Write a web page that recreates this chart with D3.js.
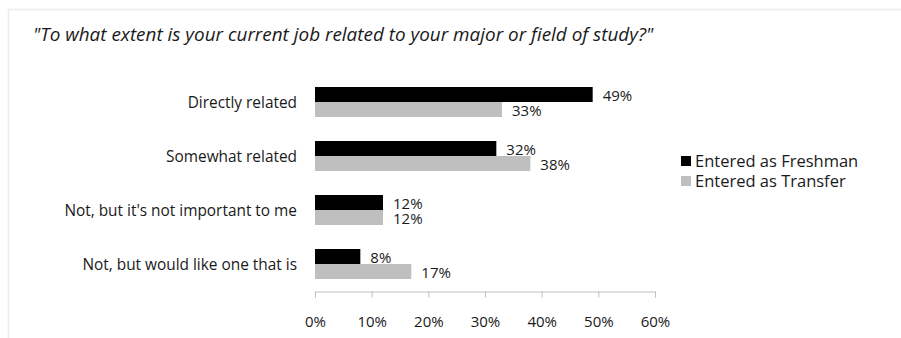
<!DOCTYPE html>
<html>
<head>
<meta charset="utf-8">
<script src="https://cdn.jsdelivr.net/npm/d3@7"></script>
<style>
  html, body { margin: 0; padding: 0; background: #fff; }
  svg { display: block; font-family: "Open Sans", "DejaVu Sans", sans-serif; }
</style>
</head>
<body>
<svg id="chart" width="901" height="338"></svg>
<script>
// Survey responses by entry type (percent of respondents)
const categories = [
  "Directly related",
  "Somewhat related",
  "Not, but it's not important to me",
  "Not, but would like one that is"
];
const seriesNames = ["Entered as Freshman", "Entered as Transfer"];
const freshman = [49, 32, 12, 8];
const transfer = [33, 38, 12, 17];
const xTicks = [0, 10, 20, 30, 40, 50, 60];
const title = "\"To what extent is your current job related to your major or field of study?\"";

const colors = ["#000000", "#bfbfbf"];
const ink = "#1a1a1a";
const svg = d3.select("#chart");

// outer frame
svg.append("rect")
  .attr("x", 8.5).attr("y", 9.5)
  .attr("width", 900).attr("height", 340)
  .attr("fill", "none").attr("stroke", "#ececec").attr("stroke-width", 1.5);

svg.append("text")
  .attr("x", 33).attr("y", 41)
  .attr("font-style", "italic")
  .attr("font-size", 18.9)
  .attr("fill", ink)
  .text(title);

const x = d3.scaleLinear().domain([0, 60]).range([315, 655]);
const y = d3.scaleBand().domain(categories).range([75, 291])
  .paddingInner(24 / 54).paddingOuter(12 / 54);
const sub = d3.scaleBand().domain(seriesNames).range([0, y.bandwidth()]);

const rows = categories.map((c, i) => ({ cat: c, vals: [freshman[i], transfer[i]] }));

const g = svg.append("g");
const grp = g.selectAll("g.cat").data(rows).join("g")
  .attr("transform", d => `translate(0,${y(d.cat)})`);

grp.selectAll("rect").data(d => d.vals.map((v, k) => ({ v, k }))).join("rect")
  .attr("x", x(0))
  .attr("y", d => sub(seriesNames[d.k]))
  .attr("width", d => x(d.v) - x(0))
  .attr("height", sub.bandwidth())
  .attr("fill", d => colors[d.k]);

grp.selectAll("text.val").data(d => d.vals.map((v, k) => ({ v, k }))).join("text")
  .attr("class", "val")
  .attr("x", d => x(d.v) + 10)
  .attr("y", d => sub(seriesNames[d.k]) + sub.bandwidth() / 2 + 6)
  .attr("font-size", 15)
  .attr("fill", ink)
  .text(d => d.v + "%");

// category labels
g.selectAll("text.cat").data(categories).join("text")
  .attr("class", "cat")
  .attr("x", 297)
  .attr("y", d => y(d) + y.bandwidth() / 2 + 5.5)
  .attr("text-anchor", "end")
  .attr("font-size", 15.4)
  .attr("fill", ink)
  .text(d => d);

// x axis
const axis = svg.append("g")
  .attr("transform", "translate(0,291.5)")
  .call(d3.axisBottom(x).tickValues(xTicks).tickFormat(d => d + "%").tickSizeInner(6).tickSizeOuter(6).tickPadding(19));
axis.select(".domain").attr("stroke", "#bfbfbf");
axis.selectAll(".tick line").attr("stroke", "#bfbfbf");
axis.selectAll(".tick text").attr("font-size", 15).attr("fill", ink)
  .attr("font-family", "\"Open Sans\", sans-serif");

// legend
const lg = svg.append("g").attr("transform", "translate(681,156)");
const li = lg.selectAll("g").data(seriesNames).join("g")
  .attr("transform", (d, i) => `translate(0,${i * 20})`);
li.append("rect").attr("width", 10).attr("height", 10).attr("fill", (d, i) => colors[i]);
li.append("text").attr("x", 14).attr("y", 11).attr("font-size", 16.5).attr("fill", ink).text(d => d);
</script>
</body>
</html>
